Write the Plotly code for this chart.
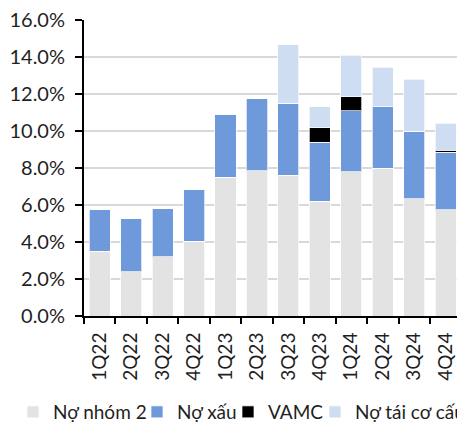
import plotly.graph_objects as go

quarters = ["1Q22", "2Q22", "3Q22", "4Q22", "1Q23", "2Q23",
            "3Q23", "4Q23", "1Q24", "2Q24", "3Q24", "4Q24"]

# % of loans
no_nhom2 = [3.50, 2.40, 3.20, 4.05, 7.50, 7.85, 7.60, 6.20, 7.80, 8.00, 6.35, 5.75]
no_xau = [2.25, 2.85, 2.60, 2.80, 3.40, 3.90, 3.90, 3.20, 3.30, 3.30, 3.65, 3.10]
vamc = [0, 0, 0, 0, 0, 0, 0, 0.77, 0.74, 0, 0, 0.12]
no_tai_co_cau = [0, 0, 0, 0, 0, 0, 3.15, 1.15, 2.25, 2.15, 2.80, 1.45]

font_name = "Lato"
txt_col = "#1f1f1f"
fsize = 19
W, H = 457, 423

fig = go.Figure()
# last number = legend left edge in px (one legend per series so the row can run off the edge)
series = [
    ("Nợ nhóm 2", no_nhom2, "#E3E3E3", 13),
    ("Nợ xấu", no_xau, "#6E9ADC", 137),
    ("VAMC", vamc, "#000000", 228),
    ("Nợ tái cơ cấu", no_tai_co_cau, "#CEDDF2", 315),
]
legends = {}
for i, (name, vals, col, lx) in enumerate(series):
    lg = "legend" if i == 0 else "legend%d" % (i + 1)
    fig.add_trace(go.Bar(
        x=quarters, y=vals, name=name, legend=lg,
        marker=dict(color=col, line=dict(color="rgba(255,255,255,0.7)", width=1)),
    ))
    legends[lg] = dict(orientation="h", xref="container", yref="container",
                       x=lx / W, xanchor="left", y=1 - 393 / H, yanchor="top",
                       font=dict(size=fsize), itemclick=False,
                       bgcolor="rgba(0,0,0,0)")

fig.update_layout(
    barmode="stack",
    bargap=0.33,
    width=W, height=H,
    margin=dict(l=84, r=0, t=20, b=107),
    plot_bgcolor="white", paper_bgcolor="white",
    font=dict(family=font_name, size=fsize, color=txt_col),
    showlegend=True,
    **legends,
)

fig.update_xaxes(
    type="category",
    range=[-0.5, 11.36],
    tickangle=-90,
    automargin=False,
    showline=True, linecolor="black", linewidth=2,
    ticks="outside", tickson="boundaries", ticklen=6, tickwidth=2, tickcolor="black",
    ticklabelstandoff=7,
    showgrid=False,
)
fig.update_yaxes(
    range=[0, 16], dtick=2,
    tickformat=".1f", ticksuffix="%",
    tickfont=dict(size=20),
    automargin=False,
    showline=True, linecolor="black", linewidth=2,
    ticks="outside", ticklen=7, tickwidth=2, tickcolor="black",
    ticklabelstandoff=6,
    showgrid=True, gridcolor="#D9D9D9", gridwidth=2,
    zeroline=False,
)

# page has a default 8px body margin; drop it so the figure sits at the top-left corner
fig.write_html("out.html", config={"displayModeBar": False},
               post_script="document.body.style.margin='0px';")
